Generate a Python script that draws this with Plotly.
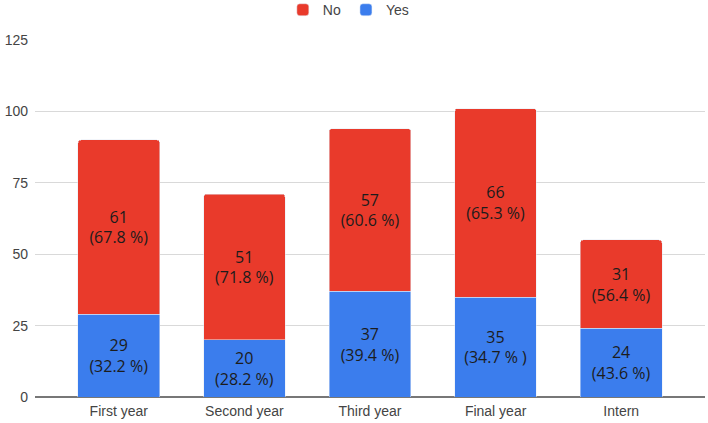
import plotly.graph_objects as go

## Data

years = ['First year', 'Second year', 'Third year', 'Final year', 'Intern']
yes_counts = [29, 20, 37, 35, 24]
no_counts = [61, 51, 57, 66, 31]
yes_pct = ['(32.2 %)', '(28.2 %)', '(39.4 %)', '(34.7 % )', '(43.6 %)']
no_pct = ['(67.8 %)', '(71.8 %)', '(60.6 %)', '(65.3 %)', '(56.4 %)']
y_ticks = [0, 25, 50, 75, 100, 125]

## Plot

label_font = dict(family='Open Sans', size=16, color='#1c1c1c')

fig = go.Figure()
fig.add_trace(go.Bar(
    x=years, y=yes_counts, name='Yes', marker_color='#3b7ded',
    text=[f'{v}<br>{p}' for v, p in zip(yes_counts, yes_pct)],
    textposition='inside', insidetextanchor='middle', textfont=label_font,
    textangle=0,
))
fig.add_trace(go.Bar(
    x=years, y=no_counts, name='No', marker_color='#e93a2b',
    text=[f'{v}<br>{p}' for v, p in zip(no_counts, no_pct)],
    textposition='inside', insidetextanchor='middle', textfont=label_font,
    textangle=0,
))

fig.update_layout(
    barmode='stack', bargap=0.35, barcornerradius=3,
    width=708, height=423,
    margin=dict(l=35, r=3, t=40, b=26),
    plot_bgcolor='white', paper_bgcolor='white',
    font=dict(family='Liberation Sans', size=14, color='#444444'),
    legend=dict(orientation='h', traceorder='reversed',
                x=0.492, xanchor='center', xref='container',
                y=0.976, yanchor='middle', yref='container',
                font=dict(size=14, color='#444444')),
)
fig.update_xaxes(range=[-0.667, 4.667], showgrid=False, ticks='', ticklabelstandoff=4)
fig.update_yaxes(range=[0, 125], tickvals=y_ticks, gridcolor='#d9d9d9', gridwidth=1,
                 zeroline=True, zerolinecolor='#777777', zerolinewidth=2,
                 ticklabelstandoff=6)

# page has a default 8px body margin; drop it so the figure sits at the corner
fig.write_html('out.html', config={'displayModeBar': False},
               post_script="document.body.style.margin='0';")
